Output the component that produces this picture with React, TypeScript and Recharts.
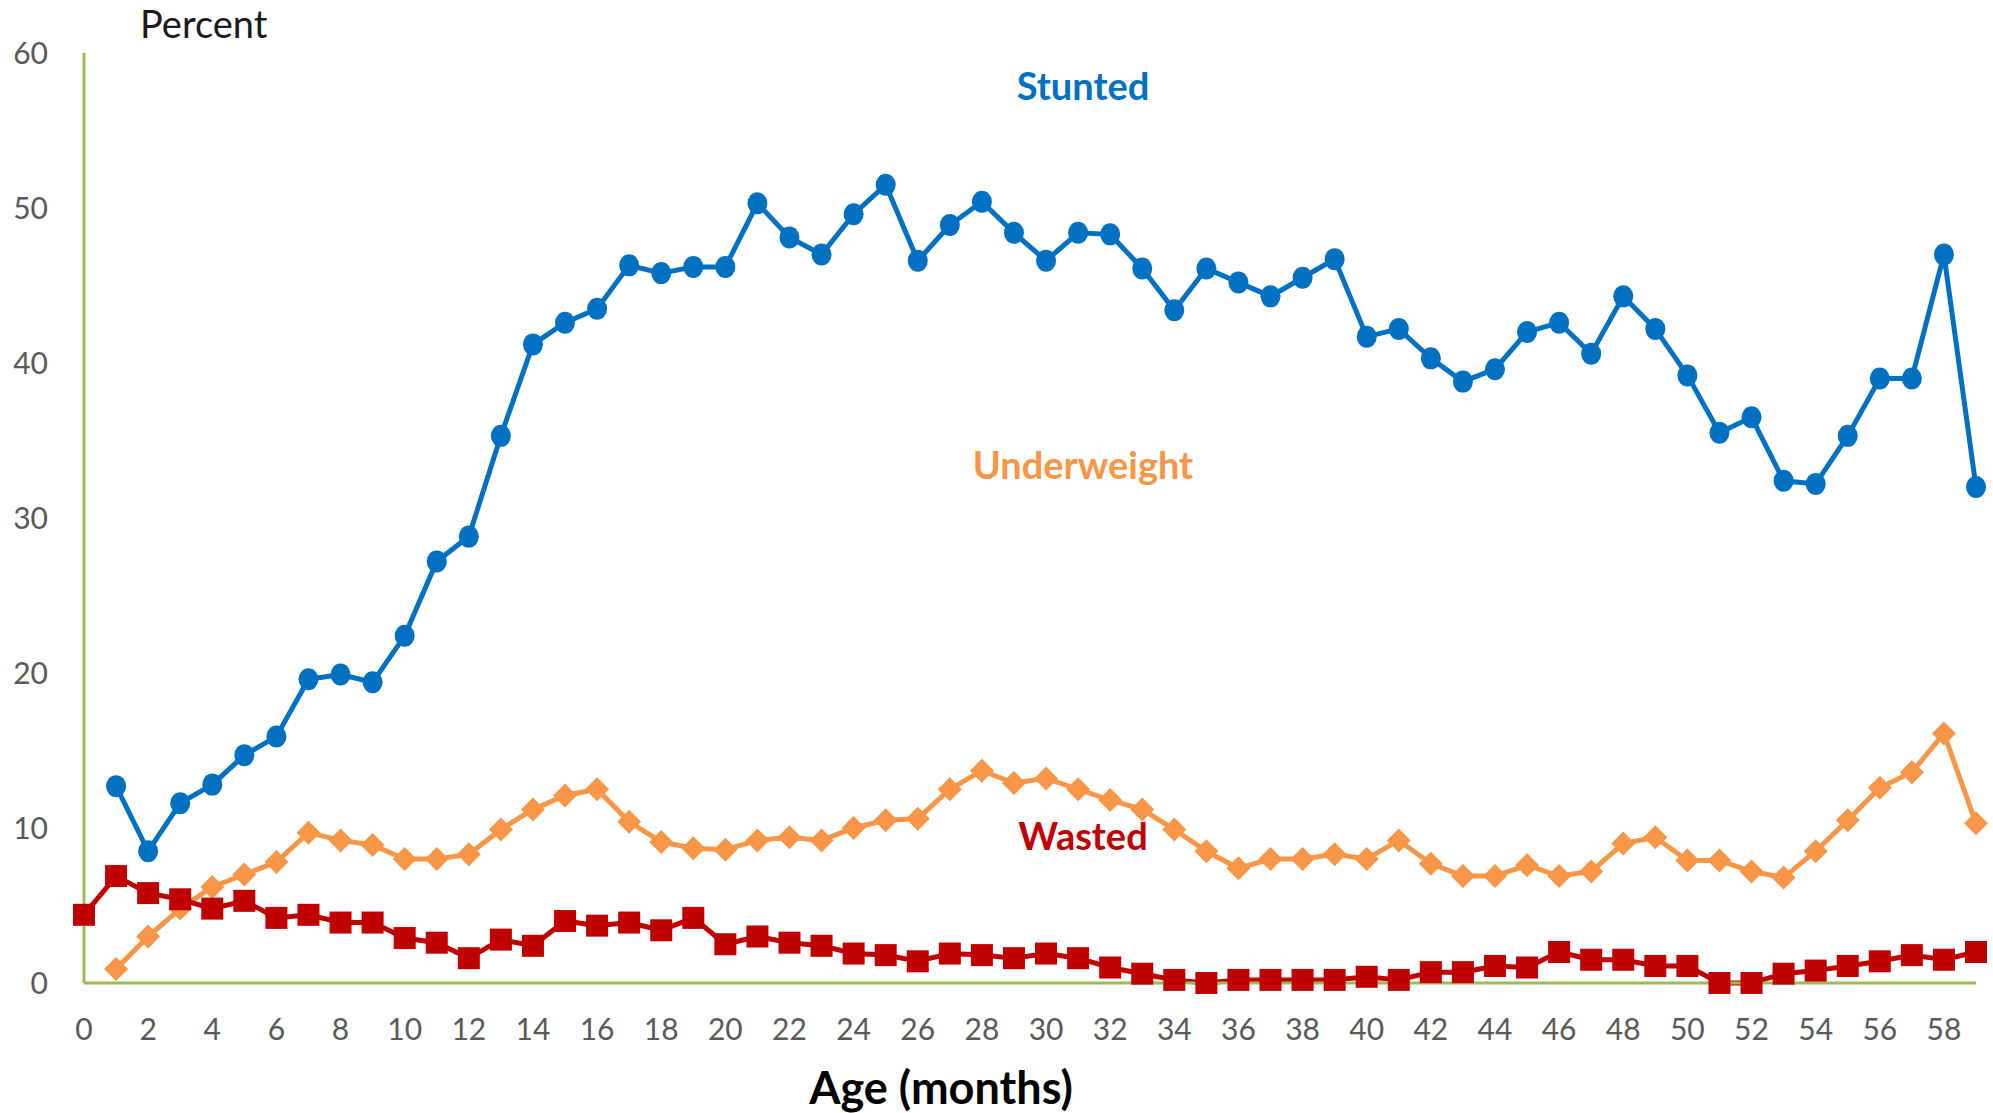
import React from "react";
import { LineChart, Line, XAxis, YAxis } from "recharts";

const ages = [
  0, 1, 2, 3, 4, 5, 6, 7, 8, 9, 10, 11, 12, 13, 14, 15, 16, 17, 18, 19, 20, 21, 22, 23, 24, 25, 26, 27, 28, 29,
  30, 31, 32, 33, 34, 35, 36, 37, 38, 39, 40, 41, 42, 43, 44, 45, 46, 47, 48, 49, 50, 51, 52, 53, 54, 55, 56, 57, 58, 59,
];

const stunted = [
  null, 12.7, 8.5, 11.6, 12.8, 14.7, 15.9, 19.6, 19.9, 19.4, 22.4, 27.2, 28.8, 35.3, 41.2, 42.6, 43.5, 46.3, 45.8, 46.2,
  46.2, 50.3, 48.1, 47.0, 49.6, 51.5, 46.6, 48.9, 50.4, 48.4, 46.6, 48.4, 48.3, 46.1, 43.4, 46.1, 45.2, 44.3, 45.5, 46.7,
  41.7, 42.2, 40.3, 38.8, 39.6, 42.0, 42.6, 40.6, 44.3, 42.2, 39.2, 35.5, 36.5, 32.4, 32.2, 35.3, 39.0, 39.0, 47.0, 32.0,
];

const underweight = [
  null, 0.9, 3.0, 4.8, 6.2, 7.0, 7.8, 9.7, 9.2, 8.9, 8.0, 8.0, 8.3, 9.9, 11.2, 12.1, 12.5, 10.4, 9.1, 8.7,
  8.6, 9.2, 9.4, 9.2, 10.0, 10.5, 10.6, 12.5, 13.7, 12.9, 13.2, 12.5, 11.8, 11.2, 9.9, 8.5, 7.4, 8.0, 8.0, 8.3,
  8.0, 9.2, 7.7, 6.9, 6.9, 7.6, 6.9, 7.2, 9.0, 9.4, 7.9, 7.9, 7.2, 6.8, 8.5, 10.5, 12.6, 13.6, 16.1, 10.3,
];

const wasted = [
  4.4, 6.9, 5.8, 5.4, 4.8, 5.3, 4.2, 4.4, 3.9, 3.9, 2.9, 2.6, 1.6, 2.8, 2.4, 4.0, 3.7, 3.9, 3.4, 4.2,
  2.5, 3.0, 2.6, 2.4, 1.9, 1.8, 1.4, 1.9, 1.8, 1.6, 1.9, 1.6, 1.0, 0.6, 0.2, 0.0, 0.2, 0.2, 0.2, 0.2,
  0.4, 0.2, 0.7, 0.7, 1.1, 1.0, 2.0, 1.5, 1.5, 1.1, 1.1, 0.0, 0.0, 0.6, 0.8, 1.1, 1.4, 1.8, 1.5, 2.0,
];

const xTicks = [0, 2, 4, 6, 8, 10, 12, 14, 16, 18, 20, 22, 24, 26, 28, 30, 32, 34, 36, 38, 40, 42, 44, 46, 48, 50, 52, 54, 56, 58];
const yTicks = [0, 10, 20, 30, 40, 50, 60];

const data = ages.map((age, i) => ({
  age,
  stunted: stunted[i],
  underweight: underweight[i],
  wasted: wasted[i],
}));

const BLUE = "#0070C0";
const ORANGE = "#F79646";
const RED = "#C00000";
const GREEN = "#9BBB59";
const FONT = "Lato, 'Open Sans', sans-serif";

const CircleDot = (props: any) => {
  const { cx, cy, index, value } = props;
  if (value == null || cy == null) return <g key={`c${index}`} />;
  return <ellipse key={`c${index}`} cx={cx} cy={cy} rx={10} ry={11} fill={BLUE} />;
};

const DiamondDot = (props: any) => {
  const { cx, cy, index, value } = props;
  if (value == null || cy == null) return <g key={`d${index}`} />;
  const s = 12;
  return (
    <path
      key={`d${index}`}
      d={`M${cx},${cy - s} L${cx + s},${cy} L${cx},${cy + s} L${cx - s},${cy} Z`}
      fill={ORANGE}
    />
  );
};

const SquareDot = (props: any) => {
  const { cx, cy, index } = props;
  if (cy == null) return <g key={`s${index}`} />;
  const s = 11;
  return <rect key={`s${index}`} x={cx - s} y={cy - s} width={s * 2} height={s * 2} fill={RED} />;
};

export default function App() {
  return (
    <div style={{ position: "absolute", left: 0, top: 0, width: 1993, height: 1113, background: "#fff", fontFamily: FONT }}>
      <LineChart width={1993} height={1113} data={data} margin={{ top: 53, right: 17, left: 0, bottom: 80 }}>
        <XAxis
          dataKey="age"
          type="number"
          domain={[0, 59]}
          ticks={xTicks}
          interval={0}
          tickLine={false}
          axisLine={{ stroke: GREEN, strokeWidth: 3 }}
          tick={{ fill: "#595959", fontSize: 30, fontFamily: FONT }}
          tickMargin={30}
          height={50}
        />
        <YAxis
          type="number"
          domain={[0, 60]}
          ticks={yTicks}
          interval={0}
          tickLine={false}
          axisLine={{ stroke: GREEN, strokeWidth: 3 }}
          tick={{ fill: "#595959", fontSize: 30, fontFamily: FONT }}
          tickMargin={30}
          width={84}
        />
        <Line
          dataKey="stunted"
          stroke={BLUE}
          strokeWidth={5}
          dot={CircleDot}
          activeDot={false}
          isAnimationActive={false}
        />
        <Line
          dataKey="underweight"
          stroke={ORANGE}
          strokeWidth={5}
          dot={DiamondDot}
          activeDot={false}
          isAnimationActive={false}
        />
        <Line
          dataKey="wasted"
          stroke={RED}
          strokeWidth={5}
          dot={SquareDot}
          activeDot={false}
          isAnimationActive={false}
        />
      </LineChart>
      <div style={{ position: "absolute", left: 140, top: 0, fontSize: 38, color: "#1a1a1a" }}>Percent</div>
      <div style={{ position: "absolute", left: 983, width: 200, textAlign: "center", top: 62, fontSize: 38, fontWeight: 700, color: BLUE }}>
        Stunted
      </div>
      <div style={{ position: "absolute", left: 933, width: 300, textAlign: "center", top: 441, fontSize: 38, fontWeight: 700, color: ORANGE }}>
        Underweight
      </div>
      <div style={{ position: "absolute", left: 983, width: 200, textAlign: "center", top: 812, fontSize: 38, fontWeight: 700, color: RED }}>
        Wasted
      </div>
      <div style={{ position: "absolute", left: 741, width: 400, textAlign: "center", top: 1060, fontSize: 45, fontWeight: 700, color: "#000" }}>
        Age (months)
      </div>
    </div>
  );
}
